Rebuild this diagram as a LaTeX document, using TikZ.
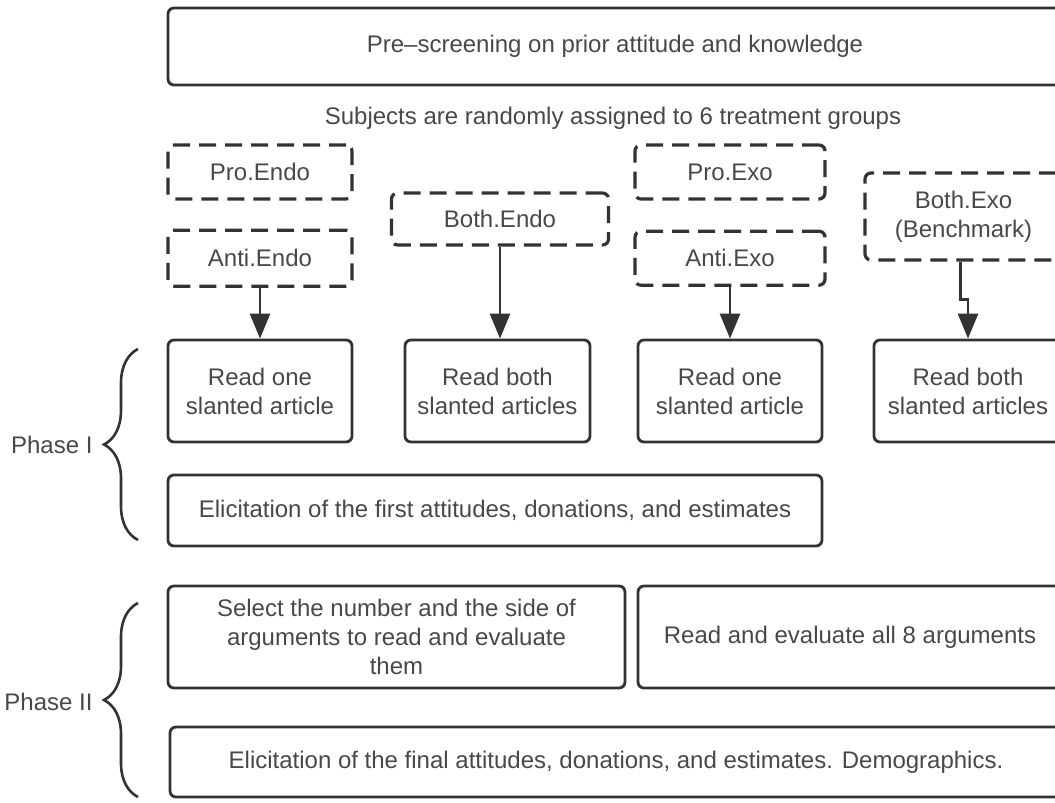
\documentclass[tikz,border=0pt]{standalone}
\usepackage{fontspec}
\setmainfont{Liberation Sans}
\usetikzlibrary{positioning,calc,arrows.meta,decorations.pathreplacing}
\definecolor{linegray}{HTML}{333333}
\definecolor{textgray}{HTML}{484848}

\begin{document}
\begin{tikzpicture}[x=1pt,y=-1pt,font=\fontsize{24}{29}\selectfont,
    box/.style={draw=linegray,line width=2.8pt,rounded corners=6pt,text=textgray,align=center,inner sep=0pt},
    group/.style={box,line width=3.2pt,dash pattern=on 17pt off 9pt},
    flow/.style={-{Triangle[width=20pt,length=25pt]},line width=2.8pt,draw=linegray},
    phase/.style={decorate,decoration={brace,amplitude=34pt},line width=2.6pt,draw=linegray}]

    \clip (0,0) rectangle (1055,803);

    %--------------------------------------------
    % Screening
    \node[box,minimum width=894pt,minimum height=77pt] (screen) at (615,46.5) {Pre–screening on prior attitude and knowledge};

    \node[text=textgray] (assign) at (613,118) {Subjects are randomly assigned to 6 treatment groups};

    %--------------------------------------------
    % Treatment groups
    \node[group,minimum width=184pt,minimum height=54pt] (proendo) at (260,172) {Pro.Endo};

    \node[group,minimum width=184pt,minimum height=56pt,below=28pt of proendo] (antiendo) {Anti.Endo};

    \node[group,minimum width=217pt,minimum height=52pt] (bothendo) at (500,219) {Both.Endo};

    \node[group,minimum width=190pt,minimum height=54pt] (proexo) at (730,172) {Pro.Exo};

    \node[group,minimum width=190pt,minimum height=54pt,below=29pt of proexo] (antiexo) {Anti.Exo};

    \node[group,minimum width=197pt,minimum height=87pt] (bothexo) at (963.5,216.5) {Both.Exo\\(Benchmark)};

    %--------------------------------------------
    % Phase I
    \node[box,minimum width=184pt,minimum height=102pt] (readA) at (260,391) {Read one\\slanted article};

    \node[box,minimum width=185pt,minimum height=102pt] (readB) at (497.5,391) {Read both\\slanted articles};

    \node[box,minimum width=184pt,minimum height=102pt] (readC) at (730,391) {Read one\\slanted article};

    \node[box,minimum width=188pt,minimum height=102pt] (readD) at (968,391) {Read both\\slanted articles};

    \node[box,minimum width=654pt,minimum height=71pt] (elicA) at (495,510.5) {Elicitation of the first attitudes, donations, and estimates};

    %--------------------------------------------
    % Phase II
    \node[box,minimum width=457pt,minimum height=102pt] (select) at (396.5,637) {Select the number and the side of\\arguments to read and evaluate\\them};

    \node[box,minimum width=424pt,minimum height=102pt] (readall) at (850,637) {Read and evaluate all 8 arguments};

    \node[box,minimum width=892pt,minimum height=70pt] (elicB) at (616,762) {Elicitation of the final attitudes, donations, and estimates. Demographics.};

    %--------------------------------------------
    % Edges
    \draw[flow] (antiendo.south) -- (antiendo.south |- readA.north);
    \draw[flow] (bothendo.south) -- (bothendo.south |- readB.north);
    \draw[flow] (antiexo.south) -- (antiexo.south |- readC.north);
    \draw[flow] ([xshift=-3pt]bothexo.south) -- ++(0,38) -| (readD.north);

    % Phases
    \draw[phase] (138,540) -- (138,349);
    \node[text=textgray,anchor=east] (phaseA) at (96,445) {Phase I};

    \draw[phase] (138,797) -- (138,603);
    \node[text=textgray,anchor=east] (phaseB) at (96,702) {Phase II};
\end{tikzpicture}
\end{document}
